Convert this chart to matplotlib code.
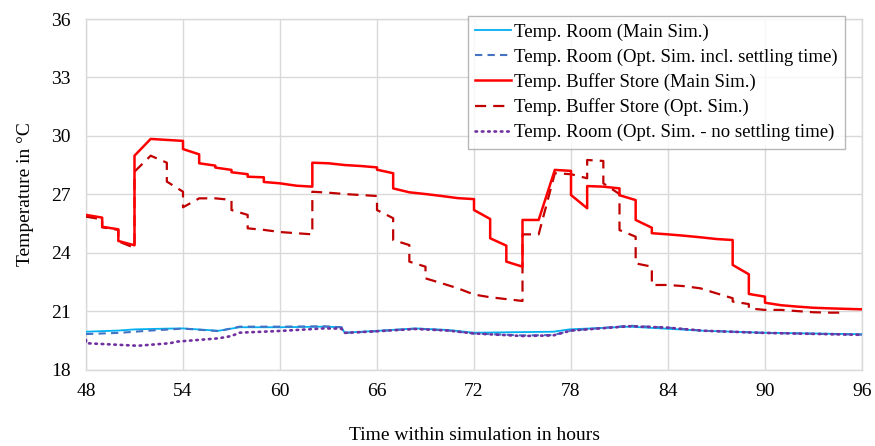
import matplotlib
matplotlib.use("Agg")
import matplotlib.pyplot as plt

# ---------------- data (hours, °C) ----------------
buf_main_h = [48, 49, 49, 50, 50, 51, 51, 52, 53, 54, 54, 55, 55, 56, 56, 57, 57, 58, 58, 59, 59,
              60, 61, 62, 62, 63, 64, 65, 66, 66, 67, 67, 68, 69, 70, 71, 72, 72, 73, 73, 74, 74,
              75, 75, 76, 77, 78, 78, 79, 79, 80, 81, 81, 82, 82, 83, 83, 84, 85, 86, 87, 88, 88,
              89, 89, 90, 90, 91, 92, 93, 94, 96]
buf_main_t = [25.94, 25.8, 25.33, 25.2, 24.6, 24.38, 28.98, 29.84, 29.79, 29.74, 29.32, 29.05, 28.59,
              28.47, 28.37, 28.25, 28.13, 28.03, 27.9, 27.87, 27.63,
              27.56, 27.44, 27.39, 28.62, 28.59, 28.5, 28.45, 28.38, 28.26, 28.08, 27.3, 27.1, 27.01,
              26.91, 26.8, 26.75, 26.19, 25.73, 24.74, 24.36, 23.54,
              23.28, 25.68, 25.68, 28.25, 28.2, 26.96, 26.28, 27.42, 27.39, 27.3, 26.95, 26.7, 25.68,
              25.28, 25.0, 24.94, 24.87, 24.79, 24.7, 24.65, 23.37,
              22.89, 21.88, 21.74, 21.43, 21.3, 21.23, 21.17, 21.14, 21.09]

buf_opt_h = [48, 49, 49, 50, 50, 51, 51, 52, 53, 53, 54, 54, 55, 56, 57, 57, 58, 58, 59, 60, 61, 62,
             62, 63, 64, 65, 66, 66, 67, 67, 68, 68, 69, 69, 70, 71, 72, 73, 75, 75, 76, 77, 78, 79,
             79, 80, 80, 81, 81, 82, 82, 83, 83, 84, 85, 86, 87, 88, 88, 89, 89, 90, 91, 92, 93, 94, 95]
buf_opt_t = [25.85, 25.71, 25.3, 25.17, 24.58, 24.25, 28.16, 28.98, 28.62, 27.65, 27.13, 26.33, 26.79,
             26.79, 26.71, 26.19, 25.94, 25.25, 25.17, 25.06, 25.0, 24.94,
             27.13, 27.08, 27.01, 26.96, 26.91, 26.19, 25.77, 24.65, 24.39, 23.54, 23.28, 22.68,
             22.43, 22.17, 21.85, 21.71, 21.52, 24.94, 24.94, 28.08, 28.03, 27.82,
             28.76, 28.71, 27.56, 27.01, 25.16, 24.82, 23.45, 23.28, 22.34, 22.34, 22.28, 22.17,
             21.91, 21.66, 21.49, 21.36, 21.14, 21.06, 21.06, 21.0, 20.94, 20.92, 20.92]

room_main_h = [48, 50, 51, 53, 54, 56.2, 57.5, 60, 62.7, 63.8, 64, 65.9, 68.4, 70.4, 72, 76.9, 77.9,
               81.6, 86.2, 89.9, 96]
room_main_t = [19.94, 20.0, 20.06, 20.1, 20.11, 19.99, 20.17, 20.17, 20.2, 20.17, 19.89, 19.98, 20.11,
               20.03, 19.89, 19.94, 20.06, 20.2, 19.99, 19.89, 19.81]

room_opt_h = [48, 50, 52, 54, 56.2, 57.5, 60, 62.7, 63.8, 64, 65.9, 68.4, 70.4, 72, 75, 76.9, 78,
              81.6, 84, 86.2, 89.9, 96]
room_opt_t = [19.82, 19.88, 20.0, 20.1, 19.97, 20.2, 20.2, 20.22, 20.17, 19.88, 19.96, 20.1, 20.0,
              19.85, 19.75, 19.77, 20.0, 20.25, 20.15, 19.99, 19.88, 19.79]

room_nst_h = [48, 48, 51.2, 53.2, 53.6, 56.2, 57, 57.5, 60, 62.7, 63.8, 64, 65.9, 68.4, 70.4, 72, 75,
              76.9, 78, 81.6, 84, 86.2, 89.9, 96]
room_nst_t = [19.52, 19.35, 19.22, 19.35, 19.43, 19.6, 19.72, 19.89, 19.98, 20.11, 20.1, 19.88, 19.96,
              20.08, 20.0, 19.85, 19.72, 19.75, 20.0, 20.22, 20.15, 19.99, 19.88, 19.78]

x_ticks = [48, 54, 60, 66, 72, 78, 84, 90, 96]
y_ticks = [18, 21, 24, 27, 30, 33, 36]

# ---------------- figure ----------------
plt.rcParams['font.family'] = ['Liberation Serif', 'DejaVu Serif']
fig = plt.figure(figsize=(8.75, 4.46), dpi=100)
ax = fig.add_axes([86 / 875, 1 - 369.5 / 446, (862 - 86) / 875, (369.5 - 19) / 446])

ax.plot(room_main_h, room_main_t, color='#00B0F0', lw=1.3, label='Temp. Room (Main Sim.)', zorder=3)
ax.plot(room_opt_h, room_opt_t, color='#4472C4', lw=1.5, dashes=(3.5, 2.5),
        label='Temp. Room (Opt. Sim. incl. settling time)', zorder=4)
ax.plot(buf_main_h, buf_main_t, color='#FF0000', lw=1.8, label='Temp. Buffer Store (Main Sim.)', zorder=5)
ax.plot(buf_opt_h, buf_opt_t, color='#C00000', lw=1.6, dashes=(5, 3.2),
        label='Temp. Buffer Store (Opt. Sim.)', zorder=4)
ax.plot(room_nst_h, room_nst_t, color='#7030A0', lw=1.9, dashes=(0.6, 1.8), dash_capstyle='round',
        label='Temp. Room (Opt. Sim. - no settling time)', zorder=4)

ax.set_xlim(48, 96)
ax.set_ylim(18, 36)
ax.set_xticks(x_ticks)
ax.set_yticks(y_ticks)
ax.grid(True, color='#D9D9D9', lw=1.0)
ax.set_axisbelow(True)
for s in ax.spines.values():
    s.set_color('#D9D9D9')
    s.set_linewidth(1.0)
ax.tick_params(length=0, labelsize=14, colors='#000000', pad=10)
ax.tick_params(axis='y', pad=11)

ax.set_xlabel('Time within simulation in hours', fontsize=14, labelpad=19)
ax.set_ylabel('Temperature in °C', fontsize=14, labelpad=12)

leg = ax.legend(loc='upper left', bbox_to_anchor=(468 / 875, 1 - 16 / 446),
                bbox_transform=fig.transFigure, fontsize=13.5, frameon=True, fancybox=False,
                borderpad=0.4, labelspacing=0.4, handlelength=1.9, handletextpad=0.15,
                borderaxespad=0)
leg.get_frame().set_edgecolor('#A6A6A6')
leg.get_frame().set_linewidth(1.0)

fig.savefig('out.png', dpi=100)
